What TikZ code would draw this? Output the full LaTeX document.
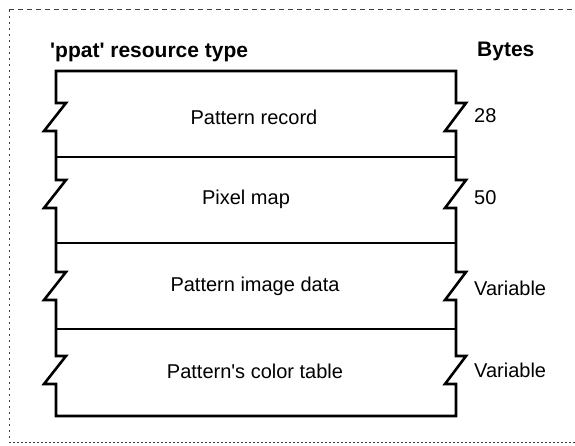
\documentclass[tikz,border=0pt]{standalone}
\usepackage{fontspec}
\setmainfont{Liberation Sans}
\begin{document}
\begin{tikzpicture}[x=1pt,y=-1pt,
  outline/.style={line width=2.6pt, line join=miter},
  divider/.style={line width=1.5pt},
  lbl/.style={font=\fontsize{20}{23}\selectfont, inner sep=0pt},
  side/.style={lbl, anchor=west},
  hdr/.style={font=\bfseries\fontsize{21}{25}\selectfont, inner sep=0pt, anchor=west},
  framel/.style={line width=1pt, black!75}]
\useasboundingbox (0,0) rectangle (575,446);
% dotted frame
\coordinate (ftl) at (9,10);
\coordinate (ftr) at (575,10);
\coordinate (fbl) at (9,442);
\coordinate (fbr) at (575,442);
\draw[framel, dash pattern=on 5pt off 4pt] (ftl) -- (ftr);
\draw[framel, dash pattern=on 2pt off 4pt] (ftl) -- (fbl);
\draw[framel, dash pattern=on 2pt off 2pt] (fbl) -- (fbr);
% headers
\node[hdr] (title) at (50,52) {\textquotesingle ppat\textquotesingle{} resource type};
\node[hdr] (bytes) at (477,51) {Bytes};
% outline with zigzags
\draw[outline] (56,71)
  \foreach \c in {117,194,286,370} { -- ({56},{\c-14}) -- ({66},{\c-14}) -- ({44},{\c+14}) -- ({56},{\c+14}) }
  -- (56,416) -- (456,416)
  \foreach \c in {370,286,194,117} { -- ({456},{\c+14}) -- ({445},{\c+14}) -- ({466},{\c-14}) -- ({456},{\c-14}) }
  -- (456,71) -- cycle;
% dividers
\foreach \y/\n in {157/a,243/b,329/c} {
  \coordinate (l\n) at (56,\y);
  \coordinate (r\n) at (456,\y);
  \draw[divider] (l\n) -- (r\n);
}
% field labels
\node[lbl] (f1) at (254,117) {Pattern record};
\node[lbl] (f2) at (246,199) {Pixel map};
\node[lbl] (f3) at (255,286) {Pattern image data};
\node[lbl] (f4) at (255,371) {Pattern\textquotesingle s color table};
% sizes
\node[side] (s1) at (474,116) {28};
\node[side] (s2) at (474,198) {50};
\node[side] (s3) at (474,288) {Variable};
\node[side] (s4) at (474,370) {Variable};
\end{tikzpicture}
\end{document}
